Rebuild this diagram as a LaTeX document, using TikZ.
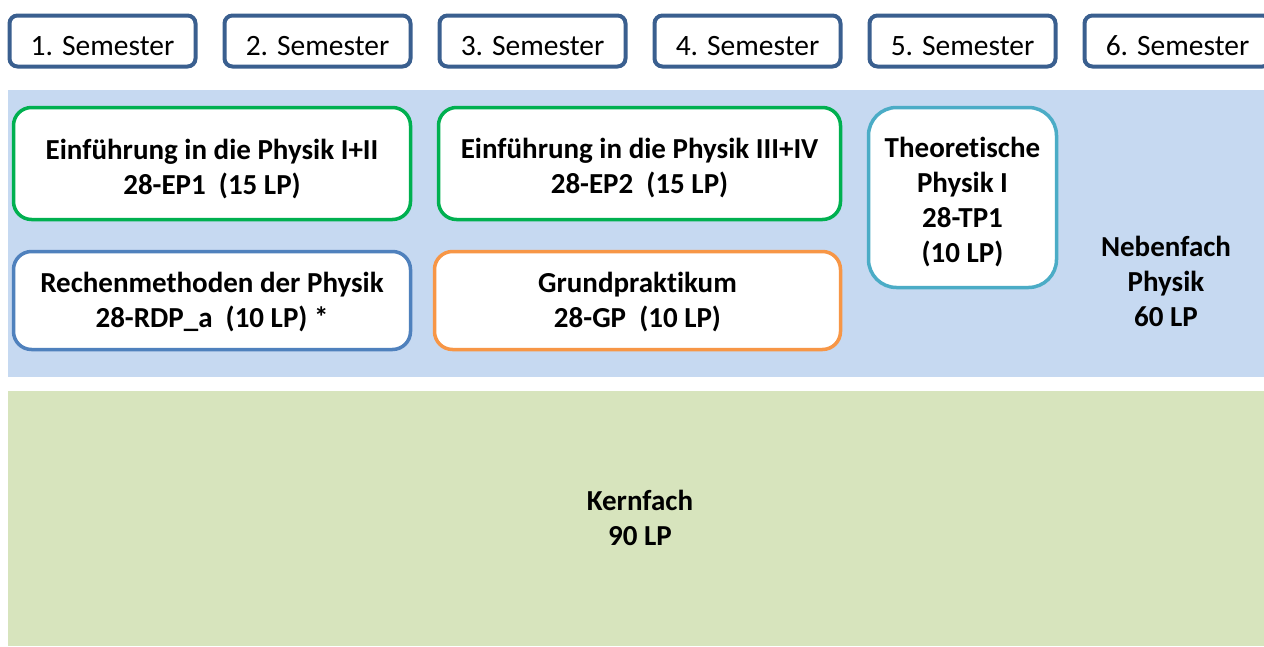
\documentclass[tikz,border=0pt]{standalone}
\usepackage{fontspec}
\setmainfont[Ligatures=NoCommon]{Carlito}
\usepackage{xcolor}
\usepackage{tikz}
\usetikzlibrary{positioning}

\definecolor{semblue}{HTML}{3A5F8F}
\definecolor{nebblue}{HTML}{C6D9F1}
\definecolor{kerngreen}{HTML}{D7E4BD}
\definecolor{epgreen}{HTML}{00B050}
\definecolor{rdpblue}{HTML}{4F81BD}
\definecolor{gporange}{HTML}{F79646}
\definecolor{tpteal}{HTML}{4BACC6}

\begin{document}
\begin{tikzpicture}[x=1pt,y=-1pt,node distance=215pt,on grid]
        \tikzstyle{sem}=[draw=semblue,line width=4pt,rounded corners=8pt,fill=white,
            minimum width=186pt,minimum height=51pt,text height=28pt,text depth=0pt,
            font=\fontsize{29.5}{35}\selectfont]
        \tikzstyle{modul}=[line width=3.5pt,rounded corners=18pt,fill=white]
        \tikzstyle{modtext}=[align=center,font=\bfseries\fontsize{29}{35}\selectfont]
        \path[clip] (0,0) rectangle (1264,646);
        % Nebenfach und Kernfach
        \fill[nebblue] (8,90) rectangle (1264,377);
        \fill[kerngreen] (8,391) rectangle (1264,646);
        % Semester
        \node[sem] (s1) at (102.5,41) {1. Semester};
        \node[sem] (s2) [right=of s1] {2. Semester};
        \node[sem] (s3) [right=of s2] {3. Semester};
        \node[sem] (s4) [right=of s3] {4. Semester};
        \node[sem] (s5) [right=of s4] {5. Semester};
        \node[sem] (s6) [right=of s5] {6. Semester};
        % Module
        \node[modul,draw=epgreen,minimum width=397pt,minimum height=112pt] (ep1) at (212,163.5) {};
        \node[modul,draw=rdpblue,minimum width=397pt,minimum height=98pt] (rdp) at (212,300.5) {};
        \node[modul,draw=epgreen,minimum width=402pt,minimum height=112pt] (ep2) at (639.5,163.5) {};
        \node[modul,draw=gporange,minimum width=406pt,minimum height=98pt] (gp) at (637.5,300.5) {};
        \node[modul,draw=tpteal,minimum width=188pt,minimum height=180pt,rounded corners=28pt] (tp1) at (962.5,197.5) {};
        \node[modtext] (ep1t) at ([yshift=-6pt]ep1.center) {Einführung in die Physik I+II\\28-EP1\ \ (15 LP)};
        \node[modtext] (rdpt) at ([yshift=-2pt]rdp.center) {Rechenmethoden der Physik\\28-RDP\_a\ \ (10 LP) *};
        \node[modtext] (ep2t) at ([yshift=-5pt]ep2.center) {Einführung in die Physik III+IV\\28-EP2\ \ (15 LP)};
        \node[modtext] (gpt) at ([yshift=-2pt]gp.center) {Grundpraktikum\\28-GP\ \ (10 LP)};
        \node[modtext] (tp1t) at ([yshift=-4.5pt]tp1.center) {Theoretische\\Physik I\\28-TP1\\(10 LP)};
        \node[modtext] (neben) at (1166,281) {Nebenfach\\Physik\\60 LP};
        \node[modtext] (kern) at (640,518) {Kernfach\\90 LP};
    \end{tikzpicture}
\end{document}
